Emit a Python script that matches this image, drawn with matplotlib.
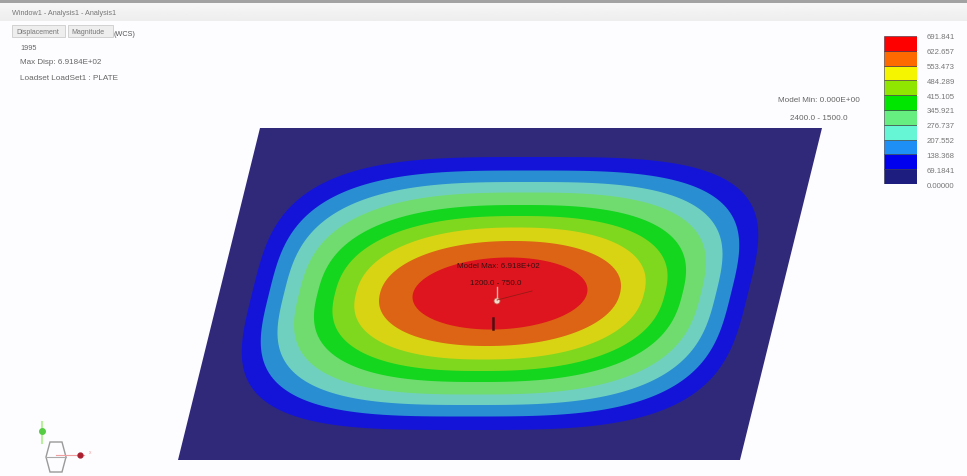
import numpy as np
import matplotlib
matplotlib.use("Agg")
import matplotlib.pyplot as plt
from matplotlib.patches import Rectangle, Polygon, Circle

plt.rcParams['font.family'] = ['Liberation Sans', 'DejaVu Sans']

# colour scale of the fringe plot, bottom to top
levels = [0.00000, 69.1841, 138.368, 207.552, 276.737, 345.921, 415.105, 484.289, 553.473, 622.657, 691.841]
level_labels = ["0.00000", "69.1841", "138.368", "207.552", "276.737", "345.921",
                "415.105", "484.289", "553.473", "622.657", "691.841"]
legend_colors = ["#1d1d80", "#0000ee", "#1e90f5", "#66f5d5", "#66ee80", "#00e600",
                 "#90e600", "#f5f500", "#ff6a00", "#ff0000"]
plate_colors = ["#30297a", "#1414d8", "#2a8ed2", "#70d0c0", "#70dc70", "#14d61e",
                "#80d81e", "#d8d414", "#dc6414", "#de141e"]

# contour bands, outermost first (pixels)
half_width = [248, 231, 216, 201, 182.5, 165, 144, 120, 87]
half_height = [136.5, 123, 111.5, 101, 88.5, 77.5, 66, 52.5, 36]
squareness = [3.4, 3.2, 3.0, 2.8, 2.6, 2.45, 2.3, 2.15, 2.0]

plate_x = [260, 822, 740, 178]
plate_y = [129, 129, 461, 461]
center = (500, 294.5)
shear = 82 / 332

fig = plt.figure(figsize=(9.67, 4.77), dpi=100, facecolor="#fdfcff")
ax = fig.add_axes([0, 0, 1, 1])
ax.set_xlim(0, 967)
ax.set_ylim(477, 0)
ax.axis("off")

# window title bar
ax.add_patch(Rectangle((0, 0), 967, 3.5, color="#a2a2a2", lw=0))
ax.imshow(np.linspace(0.97, 0.93, 20)[:, None], cmap="gray", vmin=0, vmax=1,
          extent=(0, 967, 22, 3.5), aspect="auto")
ax.set_xlim(0, 967)
ax.set_ylim(477, 0)
ax.text(12, 13.5, "Window1 - Analysis1 - Analysis1", fontsize=5.2, color="#777777", va="center")

# toolbar
ax.add_patch(Rectangle((12, 26), 53, 12, fc="#eeeeee", ec="#cccccc", lw=0.6))
ax.add_patch(Rectangle((68, 26), 45, 12, fc="#eeeeee", ec="#cccccc", lw=0.6))
ax.text(16, 32, "Displacement", fontsize=5, color="#777777", va="center")
ax.text(71, 32, "Magnitude", fontsize=5, color="#777777", va="center")
ax.text(114, 34, "(WCS)", fontsize=5.2, color="#555555", va="center")

ax.text(20, 48.5, "1995", fontsize=5.2, color="#666666", va="center")
ax.text(20, 63, "Max Disp: 6.9184E+02", fontsize=5.8, color="#666666", va="center")
ax.text(20, 78, "Loadset LoadSet1 : PLATE", fontsize=5.9, color="#666666", va="center")

ax.text(778, 100, "Model Min: 0.000E+00", fontsize=5.9, color="#666666", va="center")
ax.text(790, 118, "2400.0 - 1500.0", fontsize=5.9, color="#666666", va="center")

# plate and fringe bands
ax.add_patch(Polygon(np.column_stack([plate_x, plate_y]), fc=plate_colors[0], ec="none"))
t = np.linspace(0, 2 * np.pi, 500)
for a, b, n, c in zip(half_width, half_height, squareness, plate_colors[1:]):
    u = a * np.sign(np.cos(t)) * np.abs(np.cos(t)) ** (2 / n)
    v = b * np.sign(np.sin(t)) * np.abs(np.sin(t)) ** (2 / n)
    ax.fill(center[0] + u - shear * v, center[1] + v, color=c, lw=0)

# max marker and its note
ax.text(498, 267, "Model Max: 6.918E+02", fontsize=5.8, color="#3a1010", ha="center", va="center")
ax.text(496, 284, "1200.0 - 750.0", fontsize=5.8, color="#3a1010", ha="center", va="center")
ax.plot([497, 497], [288, 301], color="#f0b0a0", lw=1)
ax.plot([497, 532], [301, 292], color="#8a1c14", lw=0.5)
ax.add_patch(Circle((497, 302), 3, fc="#f6e0d0", ec="#c06050", lw=0.6))
ax.plot([493, 493], [319, 330], color="#501010", lw=1.8)

# triad
hex_x = [46, 50, 62, 66, 62, 50]
hex_y = [458, 443, 443, 458, 473, 473]
ax.add_patch(Polygon(np.column_stack([hex_x, hex_y]), fc="none", ec="#9a9a9a", lw=1))
ax.plot([46, 66], [458, 458], color="#aaaaaa", lw=0.8)
ax.plot([42, 42], [423, 444], color="#b8f0a0", lw=1.5)
ax.plot(42, 432, "o", color="#55cc44", ms=4)
ax.plot([56, 84], [456, 456], color="#f0a0a0", lw=0.8)
ax.plot(80, 456, "o", color="#aa2030", ms=3.5)
ax.text(90, 453, "x", fontsize=3.5, color="#f0a0a0", ha="center", va="center")

# colour legend
leg = fig.add_axes([884 / 967, 1 - 185 / 477, 33 / 967, 148 / 477])
leg.bar(0, np.diff(levels), bottom=levels[:-1], width=1, color=legend_colors,
        edgecolor="#333344", linewidth=0.4, align="edge")
leg.set_xlim(0, 1)
leg.set_ylim(levels[0], levels[-1])
leg.set_xticks([])
leg.yaxis.tick_right()
leg.set_yticks(levels)
leg.set_yticklabels(level_labels, fontsize=5.6, color="#777777")
leg.tick_params(axis="y", length=0, pad=7)
for s in leg.spines.values():
    s.set_visible(False)

fig.savefig("out.png", dpi=100)
